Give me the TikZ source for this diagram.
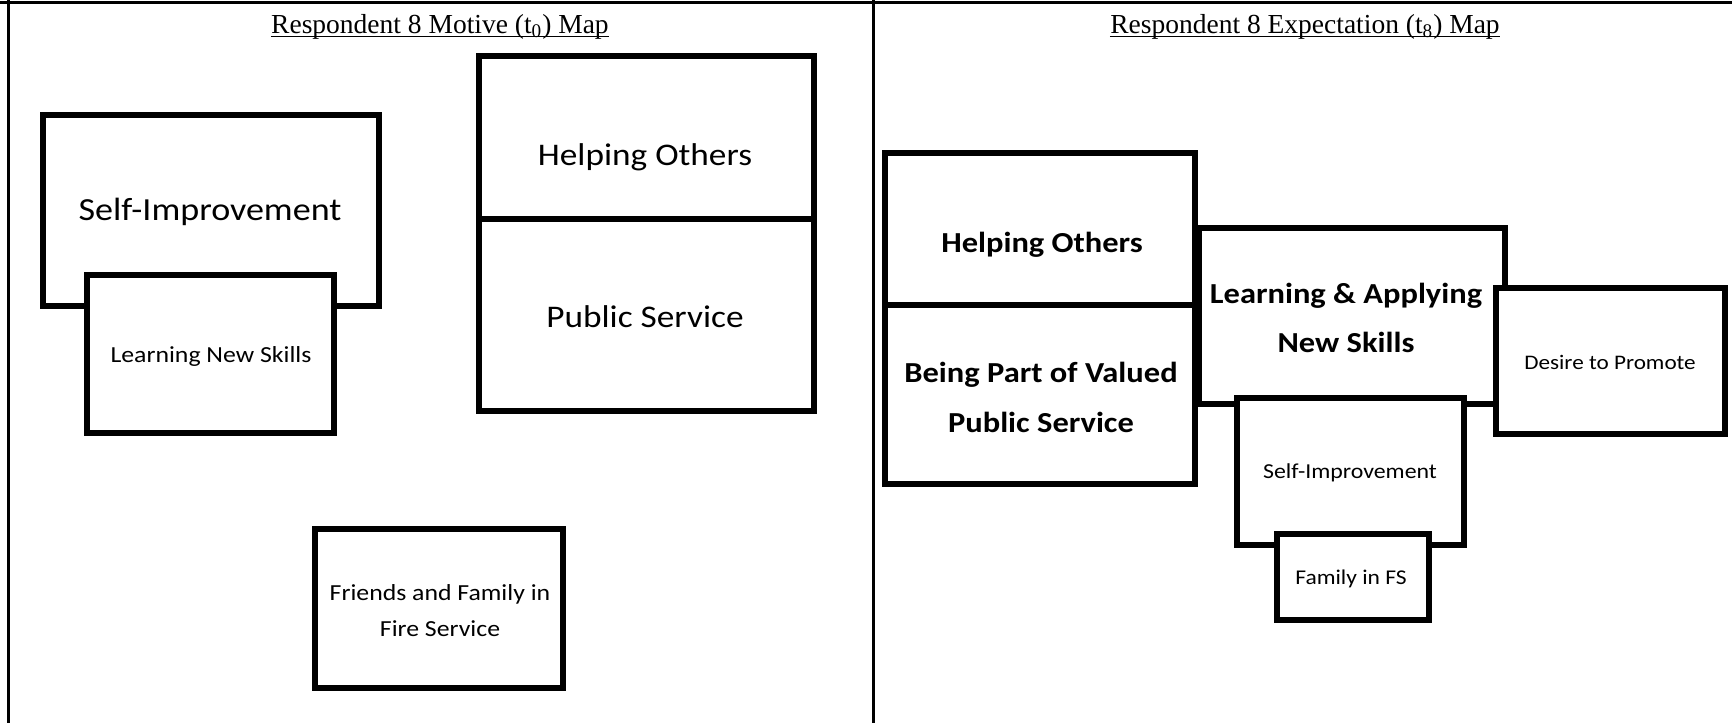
\documentclass[tikz,border=0pt]{standalone}
\usepackage{fontspec}
\setmainfont{Liberation Serif}
\newfontfamily\boxfont[FakeStretch=1.12]{Carlito}
\newcommand\pxsize[2]{\fontsize{\dimexpr #1pt/2\relax}{\dimexpr #2pt/2\relax}\selectfont}
\begin{document}
\begin{tikzpicture}[x=0.5pt, y=-0.5pt,
  box/.style={draw, line width=3.1pt, fill=white, inner sep=0pt},
  lbl/.style={align=center, inner sep=0pt},
  frame/.style={line width=1.5pt},
  ttl/.style={anchor=base, inner sep=0pt, font=\pxsize{27.5}{32}},
  uline/.style={line width=0.65pt}]
\useasboundingbox (0,0) rectangle (1732,723);
% frame
\draw[frame] (0,2.5) -- (1732,2.5);
\draw[frame] (8.5,0) -- (8.5,723);
\draw[frame] (873,0) -- (873,723);
% titles
\node[ttl] (t1) at (440,33) {Respondent 8 Motive (t\textsubscript{0}) Map};
\draw[uline] ([yshift=-1.75pt]t1.base west) -- ([yshift=-1.75pt]t1.base east);
\node[ttl] (t2) at (1305,33) {Respondent 8 Expectation (t\textsubscript{8}) Map};
\draw[uline] ([yshift=-1.75pt]t2.base west) -- ([yshift=-1.75pt]t2.base east);
% left panel
\node[box, minimum width=167.4pt, minimum height=81.4pt] (ho1) at (646.5,137.5) {};
\node[lbl, font=\boxfont\pxsize{31.5}{38}] (ho1t) at (645,157) {Helping Others};
\node[box, minimum width=167.4pt, minimum height=95.9pt] (ps1) at (646.5,315) {};
\node[lbl, font=\boxfont\pxsize{31.5}{38}] (ps1t) at (645,317) {Public Service};
\node[box, minimum width=167.9pt, minimum height=95.4pt] (si1) at (211,210.5) {};
\node[lbl, font=\boxfont\pxsize{32.2}{38}] (si1t) at (210,212) {Self-Improvement};
\node[box, minimum width=123.4pt, minimum height=78.9pt] (lns1) at (210.5,354) {};
\node[lbl, font=\boxfont\pxsize{23}{30}] (lns1t) at (211,356) {Learning New Skills};
\node[box, minimum width=123.9pt, minimum height=79.4pt] (ff) at (439,608.5) {};
\node[lbl, font=\boxfont\pxsize{23}{36}] (fft) at (440,611) {Friends and Family in\\Fire Service};
% right panel
\node[box, minimum width=154.9pt, minimum height=75.9pt] (ho2) at (1040,229) {};
\node[lbl, font=\boxfont\bfseries\pxsize{29}{36}] (ho2t) at (1042,245) {Helping Others};
\node[box, minimum width=154.9pt, minimum height=89.4pt] (bp) at (1040,394.5) {};
\node[lbl, font=\boxfont\bfseries\pxsize{29}{50}] (bpt) at (1041,397) {Being Part of Valued\\Public Service};
\node[box, minimum width=152.9pt, minimum height=87.9pt] (la) at (1352,316) {};
\node[lbl, font=\boxfont\bfseries\pxsize{29}{49}] (lat) at (1346,318) {Learning \& Applying\\New Skills};
\node[box, minimum width=113.4pt, minimum height=73.4pt] (si2) at (1350.5,471.5) {};
\node[lbl, font=\boxfont\pxsize{21.3}{26}] (si2t) at (1350,473) {Self-Improvement};
\node[box, minimum width=114.4pt, minimum height=72.9pt] (dp) at (1610.5,361) {};
\node[lbl, font=\boxfont\pxsize{20.7}{26}] (dpt) at (1610,362) {Desire to Promote};
\node[box, minimum width=75.9pt, minimum height=42.9pt] (ffs) at (1353,577) {};
\node[lbl, font=\boxfont\pxsize{21}{26}] (ffst) at (1351,579) {Family in FS};
\end{tikzpicture}
\end{document}
